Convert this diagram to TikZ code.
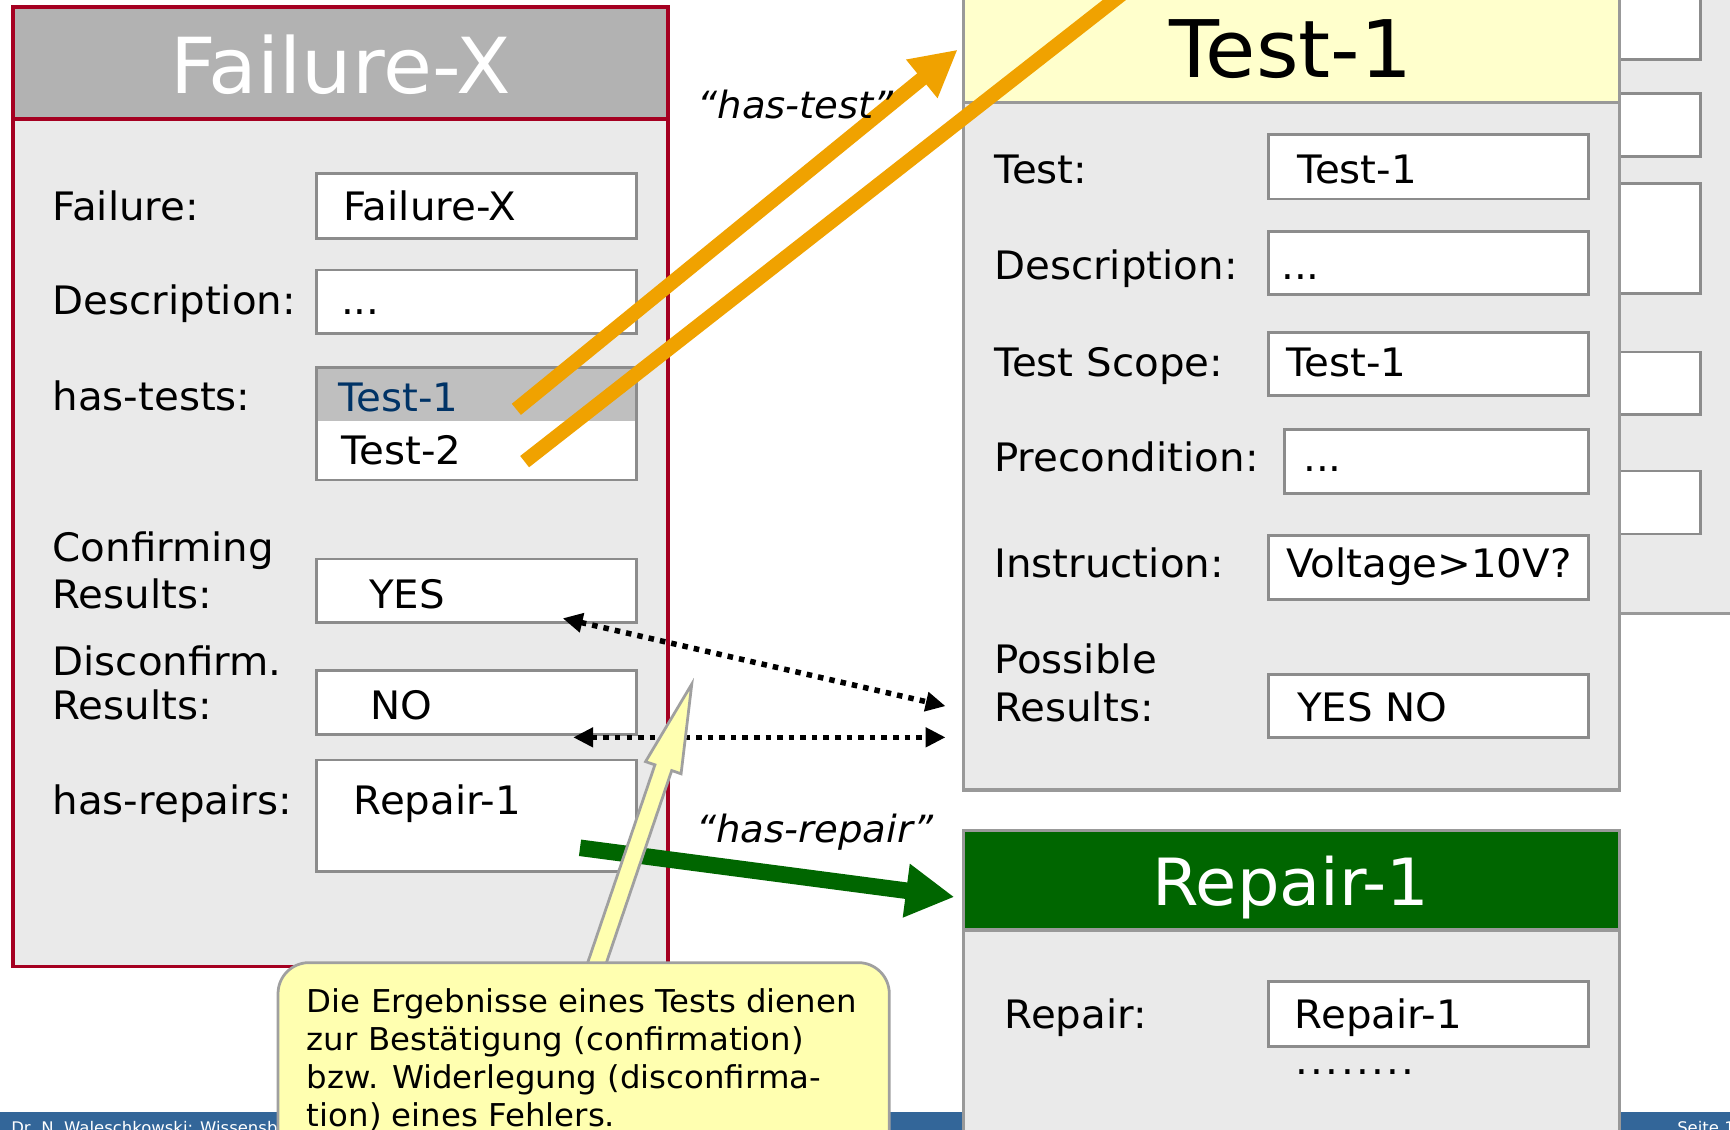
\documentclass[tikz,border=0pt]{standalone}
\usepackage{fontspec}
\setmainfont{DejaVu Sans}[FakeStretch=1.03]
\usetikzlibrary{arrows.meta}

\definecolor{failred}{RGB}{165,0,33}
\definecolor{headgray}{RGB}{178,178,178}
\definecolor{bodygray}{RGB}{234,234,234}
\definecolor{fieldgray}{RGB}{140,140,140}
\definecolor{framegray}{RGB}{153,153,153}
\definecolor{selgray}{RGB}{191,191,191}
\definecolor{selblue}{RGB}{0,51,102}
\definecolor{testyellow}{RGB}{255,255,204}
\definecolor{repairgreen}{RGB}{0,102,0}
\definecolor{linkorange}{RGB}{240,162,0}
\definecolor{noteyellow}{RGB}{255,255,176}
\definecolor{notegray}{RGB}{160,160,160}
\definecolor{footblue}{RGB}{51,102,153}

\begin{document}
\begin{tikzpicture}[x=1pt,y=-1pt,
  boxNW/.style={anchor=north west, inner sep=0pt, outer sep=0pt},
  fieldbox/.style={boxNW, draw=fieldgray, line width=2.5pt, fill=white},
  lbl/.style={anchor=base west, inner sep=0pt, font=\fontsize{35.5}{40}\selectfont},
  titletext/.style={anchor=base, inner sep=0pt, font=\fontsize{70}{72}\selectfont},
  relation/.style={anchor=base west, inner sep=0pt, font=\fontsize{34}{40}\selectfont\itshape},
  notetext/.style={anchor=base west, inner sep=0pt, font=\fontsize{28.5}{34}\selectfont},
  foottext/.style={anchor=base west, inner sep=0pt, text=white, font=\fontsize{14.5}{16}\selectfont},
  testlink/.style={draw=linkorange, line width=13pt},
  dotlink/.style={line width=5pt, dash pattern=on 5pt off 5.5pt,
    {Triangle[length=18pt,width=17pt]}-{Triangle[length=18pt,width=17pt]}},
  repairlink/.style={draw=repairgreen, line width=15pt, -{Triangle[length=44pt,width=46pt]}}
]
\useasboundingbox (0,0) rectangle (1568,1024);
\clip (0,0) rectangle (1568,1024);
\fill[white] (0,0) rectangle (1568,1024);

% footer bar
\fill[footblue] (0,1008) rectangle (1568,1040);
\begin{scope}
  \clip (0,1000) rectangle (262,1030);
  \node[foottext] (footLeft) at (10,1027.5) {Dr. N. Waleschkowski: Wissensbasierte};
\end{scope}
\node[foottext] (footRight) at (1520,1027.5) {Seite 1};

% window lying behind the test frame
\node[boxNW, draw=framegray, line width=3pt, fill=bodygray, minimum width=200, minimum height=586] (backPanel) at (1400,-30) {};
\node[fieldbox, minimum width=141, minimum height=84] (backA) at (1400,-30) {};
\node[fieldbox, minimum width=141, minimum height=57] (backB) at (1400,85) {};
\node[fieldbox, minimum width=141, minimum height=100] (backC) at (1400,166) {};
\node[fieldbox, minimum width=141, minimum height=57] (backD) at (1400,319) {};
\node[fieldbox, minimum width=141, minimum height=57] (backE) at (1400,427) {};

% ---------- Failure-X frame ----------
\node[boxNW, draw=failred, line width=3.5pt, fill=bodygray, minimum width=594, minimum height=870] (failure) at (11.5,6) {};
\node[boxNW, draw=failred, line width=3.5pt, fill=headgray, minimum width=594, minimum height=101.5] (failureHead) at (11.5,6) {};
\node[titletext, text=white] (failureTitle) at (309,84.6) {Failure-X};

\node[lbl] (fLblFailure) at (47.5,199.4) {Failure:};
\node[fieldbox, minimum width=290, minimum height=59] (fFailure) at (287,157) {};
\node[lbl] (fValFailure) at (311,199.4) {Failure-X};

\node[lbl] (fLblDesc) at (47.5,285.5) {Description:};
\node[fieldbox, minimum width=290, minimum height=57.3] (fDesc) at (287,244.7) {};
\node[lbl] (fValDesc) at (309,285.5) {...};

\node[lbl] (fLblTests) at (47.5,372) {has-tests:};
\node[fieldbox, minimum width=290, minimum height=102,
  path picture={\fill[selgray] (path picture bounding box.north west) rectangle ([yshift=-49pt]path picture bounding box.north east);}] (fTests) at (287,333) {};
\node[lbl, text=selblue] (fValTestOne) at (307,373) {Test-1};
\node[lbl] (fValTestTwo) at (309.5,420.8) {Test-2};

\node[lbl] (fLblConfA) at (47.5,508.5) {Confirming};
\node[lbl] (fLblConfB) at (47.5,551.4) {Results:};
\node[fieldbox, minimum width=290, minimum height=57.4] (fConfirm) at (287,506.6) {};
\node[lbl] (fValConfirm) at (334.5,551.4) {YES};

\node[lbl] (fLblDiscA) at (47.5,611.8) {Disconfirm.};
\node[lbl] (fLblDiscB) at (47.5,651.7) {Results:};
\node[fieldbox, minimum width=290, minimum height=57.6] (fDisconfirm) at (287,608) {};
\node[lbl] (fValDisconfirm) at (335.5,651.7) {NO};

\node[lbl] (fLblRepairs) at (47.5,738) {has-repairs:};
\node[fieldbox, minimum width=290, minimum height=101.2] (fRepairs) at (287,688.8) {};
\node[lbl] (fValRepairs) at (320.5,738) {Repair-1};

% ---------- Test-1 frame ----------
\node[boxNW, draw=framegray, line width=3pt, fill=bodygray, minimum width=594.5, minimum height=746] (test) at (873.5,-30) {};
\node[boxNW, draw=framegray, line width=3pt, fill=testyellow, minimum width=594.5, minimum height=123] (testHead) at (873.5,-30) {};
\node[titletext, font=\fontsize{72}{74}\selectfont] (testTitle) at (1170,70) {Test-1};

\node[lbl] (tLblTest) at (901,166.3) {Test:};
\node[fieldbox, minimum width=290, minimum height=58.3] (tTest) at (1150,122) {};
\node[lbl] (tValTest) at (1175.5,166.3) {Test-1};

\node[lbl] (tLblDesc) at (901,253.2) {Description:};
\node[fieldbox, minimum width=290, minimum height=57.4] (tDesc) at (1150,209.5) {};
\node[lbl] (tValDesc) at (1161,253.2) {...};

\node[lbl] (tLblScope) at (901,340.9) {Test Scope:};
\node[fieldbox, minimum width=290, minimum height=57.3] (tScope) at (1150,301.3) {};
\node[lbl] (tValScope) at (1166,340.9) {Test-1};

\node[lbl] (tLblPre) at (901,427.1) {Precondition:};
\node[fieldbox, minimum width=276, minimum height=58] (tPre) at (1164,389.4) {};
\node[lbl] (tValPre) at (1181,427.1) {...};

\node[lbl] (tLblInstr) at (901,523.3) {Instruction:};
\node[fieldbox, minimum width=290, minimum height=58] (tInstr) at (1150,485.5) {};
\node[lbl] (tValInstr) at (1165.5,523.3) {Voltage>10V?};

\node[lbl] (tLblResA) at (901,610.3) {Possible};
\node[lbl] (tLblResB) at (901,654.3) {Results:};
\node[fieldbox, minimum width=290, minimum height=57.2] (tResults) at (1150,611.4) {};
\node[lbl] (tValResults) at (1175.5,654) {YES NO};

% ---------- Repair-1 frame ----------
\node[boxNW, draw=framegray, line width=3pt, fill=bodygray, minimum width=594.5, minimum height=320] (repair) at (873.5,753) {};
\node[boxNW, draw=framegray, line width=3pt, fill=repairgreen, minimum width=594.5, minimum height=90] (repairHead) at (873.5,753) {};
\node[titletext, text=white, font=\fontsize{59}{61}\selectfont] (repairTitle) at (1170,821) {Repair-1};

\node[lbl] (rLblRepair) at (910.5,932) {Repair:};
\node[fieldbox, minimum width=290.5, minimum height=59] (rRepair) at (1149.5,889.8) {};
\node[lbl] (rValRepair) at (1173.5,932) {Repair-1};
\node[lbl] (rMore) at (1174,974) {\addfontfeatures{LetterSpace=6}........};

% ---------- relations ----------
\coordinate (linkOneTail) at (468,371);
\coordinate (linkOneTip) at (868,45);
\coordinate (linkTwoTail) at (475.5,418.4);
\coordinate (linkTwoEnd) at (1099.4,-70);
\draw[testlink, -{Triangle[length=42pt,width=42pt]}] (linkOneTail) -- (linkOneTip);
\draw[testlink] (linkTwoTail) -- (linkTwoEnd);

\coordinate (yesEnd) at (510,560.4);
\coordinate (resultsUpper) at (857,640);
\coordinate (noEnd) at (519.5,668.3);
\coordinate (resultsLower) at (857,668.3);
\draw[dotlink] (yesEnd) -- (resultsUpper);
\draw[dotlink] (noEnd) -- (resultsLower);

\coordinate (repairTail) at (525.7,768.4);
\coordinate (repairTip) at (865,813);
\draw[repairlink] (repairTail) -- (repairTip);

\node[relation] (hasTestLabel) at (632,107) {“has-test”};
\node[relation] (hasRepairLabel) at (631,764) {“has-repair”};

% ---------- note with pointer ----------
\draw[fill=noteyellow, draw=notegray, line width=2.5pt, line join=miter]
  (627,620) -- (617.3,701.3) -- (608.8,698.4) -- (544.5,887.6)
  -- (529.3,882.4) -- (593.6,693.2) -- (585.1,690.3) -- cycle;
\node[boxNW, draw=notegray, line width=2.5pt, fill=noteyellow, rounded corners=28pt,
  minimum width=554, minimum height=200] (note) at (252,872.5) {};
\node[notetext] (noteA) at (278,918) {Die Ergebnisse eines Tests dienen};
\node[notetext] (noteB) at (278,952.4) {zur Bestätigung (confirmation)};
\node[notetext] (noteC) at (278,986.8) {bzw. Widerlegung (disconfirma-};
\node[notetext] (noteD) at (278,1021.2) {tion) eines Fehlers.};
\end{tikzpicture}
\end{document}
